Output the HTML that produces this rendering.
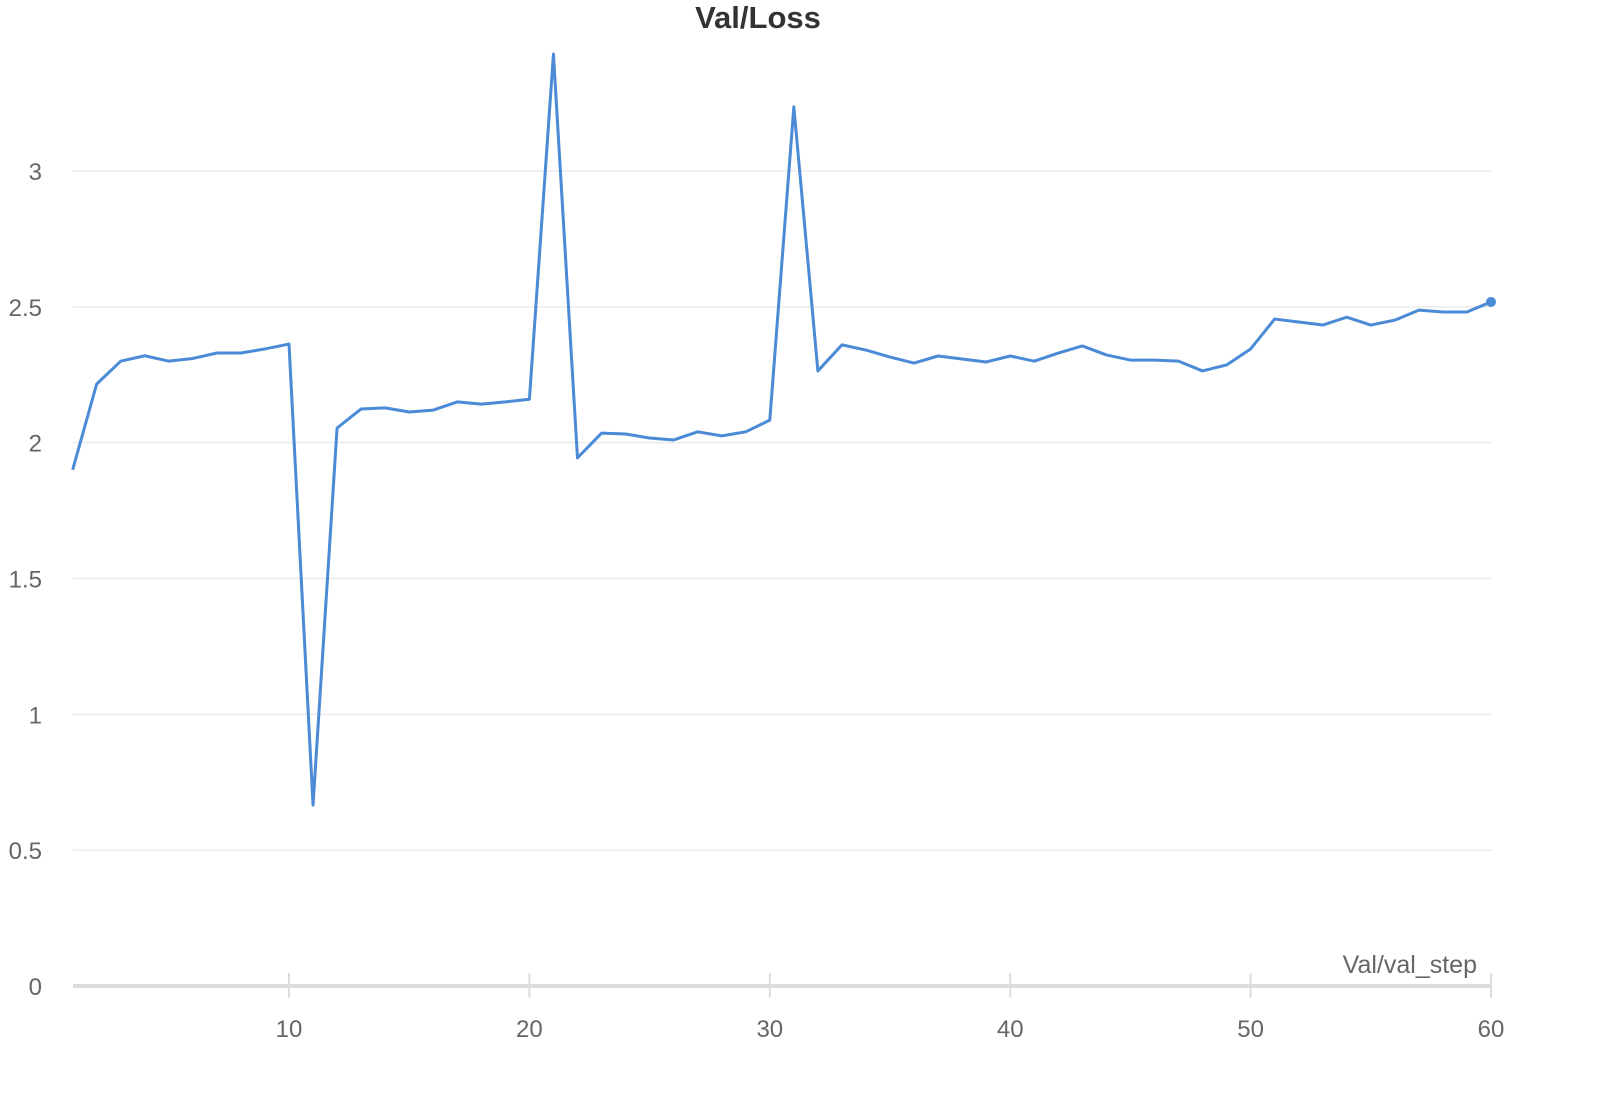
<!DOCTYPE html>
<html><head><meta charset="utf-8"><style>
html,body{margin:0;padding:0;background:#fff;}
svg{display:block;font-family:"Liberation Sans",sans-serif;}
</style></head><body>
<svg id="chart" width="1606" height="1116">
<text x="758" y="28" text-anchor="middle" font-size="31" font-weight="bold" fill="#333">Val/Loss</text>
<g id="grid"></g><g id="axes"></g><g id="series"></g>
<text x="1477" y="973" text-anchor="end" font-size="25" fill="#666">Val/val_step</text>
</svg>
<script>
const steps=[];for(let i=1;i<=60;i++)steps.push(i);
const lossValues=[1.90,2.216,2.30,2.32,2.30,2.31,2.33,2.33,2.345,2.363,0.666,2.054,2.124,2.128,2.113,2.12,2.15,2.142,2.15,2.16,3.43,1.944,2.035,2.032,2.017,2.01,2.04,2.025,2.04,2.083,3.236,2.264,2.36,2.341,2.315,2.293,2.319,2.308,2.297,2.319,2.30,2.33,2.356,2.323,2.304,2.304,2.30,2.264,2.286,2.345,2.455,2.444,2.433,2.462,2.433,2.451,2.488,2.481,2.481,2.518];
const yTicks=[0,0.5,1,1.5,2,2.5,3];
const yTickLabels=["0","0.5","1","1.5","2","2.5","3"];
const xTicks=[10,20,30,40,50,60];
const xTickLabels=["10","20","30","40","50","60"];
const NS="http://www.w3.org/2000/svg";
const xs=v=>289+(v-10)*(1491-289)/50;
const ys=v=>986-v*(986-171)/3;
function mk(tag,attrs,parent,text){const e=document.createElementNS(NS,tag);for(const k in attrs)e.setAttribute(k,attrs[k]);if(text!==undefined)e.textContent=text;parent.appendChild(e);return e;}
const grid=document.getElementById('grid'),axes=document.getElementById('axes'),series=document.getElementById('series');
yTicks.forEach((t,i)=>{
  if(t>0){const l=mk('line',{x1:73,x2:1491,y1:ys(t),y2:ys(t),stroke:'#ebebeb','stroke-width':1.5},grid);
  
  }
  const tx=mk('text',{x:42,y:ys(t)+9,'text-anchor':'end','font-size':24,fill:'#666'},axes,yTickLabels[i]);
  
  
});
const ax=mk('line',{x1:73,x2:1491,y1:986,y2:986,stroke:'#ddd','stroke-width':4},axes);


xTicks.forEach((t,i)=>{
  const tk=mk('line',{x1:xs(t),x2:xs(t),y1:973,y2:998,stroke:'#ddd','stroke-width':2},axes);
  
  
  const tx=mk('text',{x:xs(t),y:1037,'text-anchor':'middle','font-size':24,fill:'#666'},axes,xTickLabels[i]);
  
  
});
const pts=steps.map((s,i)=>xs(s).toFixed(2)+','+ys(lossValues[i]).toFixed(2)).join(' ');
const pl=mk('polyline',{points:pts,fill:'none',stroke:'#4a8ad6','stroke-width':3,'stroke-linejoin':'round'},series);


const n=steps.length-1;
const dot=mk('circle',{cx:xs(steps[n]),cy:ys(lossValues[n]),r:5,fill:'#4a8ad6'},series);


</script>
</body></html>
